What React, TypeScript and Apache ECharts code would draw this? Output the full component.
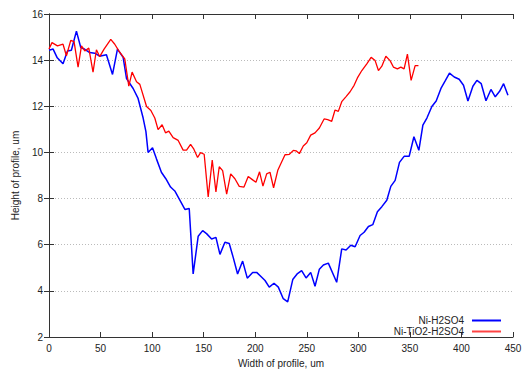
import React, { useEffect, useRef } from "react";
import * as echarts from "echarts";

const blueX = [0, 4, 8, 13.6, 17.9, 21.7, 26.6, 30.8, 34.7, 39.5, 44.4, 49, 55.7, 61.6, 66.4, 71.9, 75.2, 81.6, 86.4, 91.3, 94, 96.1, 100.4, 104.3, 109, 113.3, 117.9, 122, 126.9, 131.8, 136, 139.8, 144.7, 149, 152.8, 157.7, 161.9, 165.8, 170.6, 174.8, 178.7, 182.9, 187.8, 192.3, 197.5, 201.4, 206.3, 209.5, 213.6, 218.2, 222.4, 227.2, 231.5, 236.4, 241, 245, 249.3, 253.8, 258, 262.2, 266.1, 270.9, 279, 283.9, 288.1, 292.7, 296.9, 301.7, 305.6, 309.8, 314, 318.5, 322.8, 327.6, 331.5, 335.7, 339.9, 344.4, 349.3, 353.9, 358.7, 362.6, 366.5, 371.3, 375.5, 380.4, 384.5, 388.4, 393, 397.8, 402, 406.3, 411.1, 415, 419.2, 423.8, 428.6, 432.8, 437, 440.9, 445.1];
const blueY = [14.43, 14.48, 14.1, 13.84, 14.4, 14.43, 15.26, 14.55, 14.47, 14.33, 14.3, 14.17, 14.23, 13.38, 14.48, 14.12, 13.2, 12.77, 12.34, 11.49, 10.9, 10.0, 10.2, 9.71, 9.14, 8.86, 8.5, 8.33, 7.93, 7.53, 7.57, 4.73, 6.37, 6.61, 6.48, 6.25, 6.32, 5.58, 6.11, 6.05, 5.44, 4.73, 5.29, 4.55, 4.8, 4.8, 4.59, 4.45, 4.16, 4.33, 4.16, 3.66, 3.52, 4.49, 4.75, 4.88, 4.56, 4.8, 4.2, 4.94, 5.12, 5.2, 4.37, 5.82, 5.77, 5.98, 5.91, 6.4, 6.54, 6.79, 6.87, 7.43, 7.65, 7.93, 8.53, 8.79, 9.57, 9.83, 9.83, 10.68, 10.09, 11.18, 11.49, 11.99, 12.23, 12.8, 13.12, 13.44, 13.27, 13.17, 12.91, 12.23, 12.87, 13.12, 12.98, 12.24, 12.73, 12.41, 12.65, 12.98, 12.48];

const redX = [0, 2.9, 8.2, 13.6, 16.9, 21.1, 24.3, 28.2, 31.5, 34.7, 38.6, 42.7, 46, 49.2, 53.4, 59.9, 63.8, 67.7, 73.5, 77.4, 80.6, 84.9, 88.1, 94.6, 98.8, 102.6, 105.8, 109.7, 113, 116.2, 120.4, 125.3, 130.1, 133.4, 137.3, 140.5, 144.1, 147, 150.5, 154.4, 158.3, 161.9, 165.1, 168.4, 172.3, 176.2, 180.3, 184.5, 189.1, 193.2, 197.5, 200.7, 204.2, 207.5, 211.1, 214.3, 217.8, 222, 224.7, 228.9, 233.1, 237, 239.6, 242.8, 246.6, 250, 253.8, 258, 262.2, 266.8, 270.3, 274.2, 277.4, 280.6, 283.9, 288.1, 292, 295.9, 299.1, 303.4, 308.2, 312.4, 316.3, 319.5, 322.8, 326.7, 330.8, 334, 337.9, 341.2, 344.4, 347.6, 351.2, 355.1, 358.3];
const redY = [14.48, 14.76, 14.62, 14.69, 14.19, 14.86, 14.8, 13.7, 14.62, 14.4, 14.52, 13.48, 14.45, 14.15, 14.48, 14.9, 14.69, 14.4, 14.05, 12.87, 13.48, 13.06, 12.95, 11.99, 11.82, 11.49, 10.99, 11.2, 10.85, 10.92, 10.64, 10.52, 10.1, 10.1, 10.35, 10.14, 9.78, 9.99, 9.92, 8.07, 9.67, 8.29, 9.38, 9.21, 8.19, 9.07, 8.86, 8.53, 8.5, 8.96, 8.81, 8.71, 9.16, 8.54, 9.07, 9.14, 8.47, 9.24, 9.5, 9.9, 9.92, 10.09, 10.07, 9.95, 10.28, 10.42, 10.75, 10.85, 11.06, 11.45, 11.42, 11.35, 11.84, 11.78, 12.2, 12.42, 12.63, 12.91, 13.23, 13.55, 13.84, 14.12, 13.98, 13.55, 13.74, 14.17, 13.98, 13.7, 13.62, 13.7, 13.62, 14.26, 13.12, 13.76, 13.76];

const seriesNames = ["Ni-H2SO4", "Ni-TiO2-H2SO4"];
const xLabel = "Width of profile, um";
const yLabel = "Height of profile, um";

const FONT = "Liberation Sans, Arial, sans-serif";
const TXT = "#222";

export default function App() {
  const ref = useRef<HTMLDivElement>(null);
  useEffect(() => {
    if (!ref.current) return;
    const chart = echarts.init(ref.current, null, { renderer: "svg" });
    const zip = (xs: number[], ys: number[]) => xs.map((x, i) => [x, ys[i]]);
    const axisLine = { show: true, lineStyle: { color: "#333", width: 1 } };
    chart.setOption({
      animation: false,
      backgroundColor: "#fff",
      textStyle: { fontFamily: FONT },
      grid: { left: 49, right: 15, top: 14, bottom: 31, containLabel: false },
      legend: {
        orient: "vertical",
        right: 27,
        top: 315,
        align: "right",
        itemWidth: 29,
        itemHeight: 2,
        itemGap: 0,
        icon: "rect",
        padding: 0,
        textStyle: { fontFamily: FONT, fontSize: 10, color: TXT, lineHeight: 11, height: 11, padding: [0, 3, 0, 0] },
        data: seriesNames,
      },
      xAxis: [
        {
          type: "value",
          min: 0,
          max: 450,
          interval: 50,
          name: xLabel,
          nameLocation: "middle",
          nameGap: 21,
          nameTextStyle: { fontFamily: FONT, fontSize: 10, color: TXT },
          axisLine,
          axisTick: { show: true, inside: true, length: 5, lineStyle: { color: "#333" } },
          axisLabel: { fontFamily: FONT, fontSize: 10, color: TXT, margin: 6 },
          splitLine: { show: false },
        },
        {
          type: "value",
          position: "top",
          min: 0,
          max: 450,
          interval: 50,
          axisLine,
          axisTick: { show: true, inside: true, length: 5, lineStyle: { color: "#333" } },
          axisLabel: { show: false },
          splitLine: { show: false },
        },
      ],
      yAxis: [
        {
          type: "value",
          min: 2,
          max: 16,
          interval: 2,
          name: yLabel,
          nameLocation: "middle",
          nameGap: 28,
          nameTextStyle: { fontFamily: FONT, fontSize: 10, color: TXT },
          axisLine,
          axisTick: { show: true, inside: true, length: 5, lineStyle: { color: "#333" } },
          axisLabel: { fontFamily: FONT, fontSize: 10, color: TXT, margin: 6 },
          splitLine: { show: true, lineStyle: { color: "#bbb", type: [1, 2], width: 1 } },
        },
        {
          type: "value",
          position: "right",
          min: 2,
          max: 16,
          interval: 2,
          axisLine,
          axisTick: { show: true, inside: true, length: 5, lineStyle: { color: "#333" } },
          axisLabel: { show: false },
          splitLine: { show: false },
        },
      ],
      series: [
        {
          name: seriesNames[0],
          type: "line",
          data: zip(blueX, blueY),
          showSymbol: false,
          symbol: "none",
          lineStyle: { color: "#0000ff", width: 1.5 },
          itemStyle: { color: "#0000ff" },
        },
        {
          name: seriesNames[1],
          type: "line",
          data: zip(redX, redY),
          showSymbol: false,
          symbol: "none",
          lineStyle: { color: "#ff0000", width: 1.3 },
          itemStyle: { color: "#ff4444" },
        },
      ],
    });
    return () => chart.dispose();
  }, []);
  return <div ref={ref} style={{ width: 528, height: 373, position: "absolute", left: 0, top: 0 }} />;
}
